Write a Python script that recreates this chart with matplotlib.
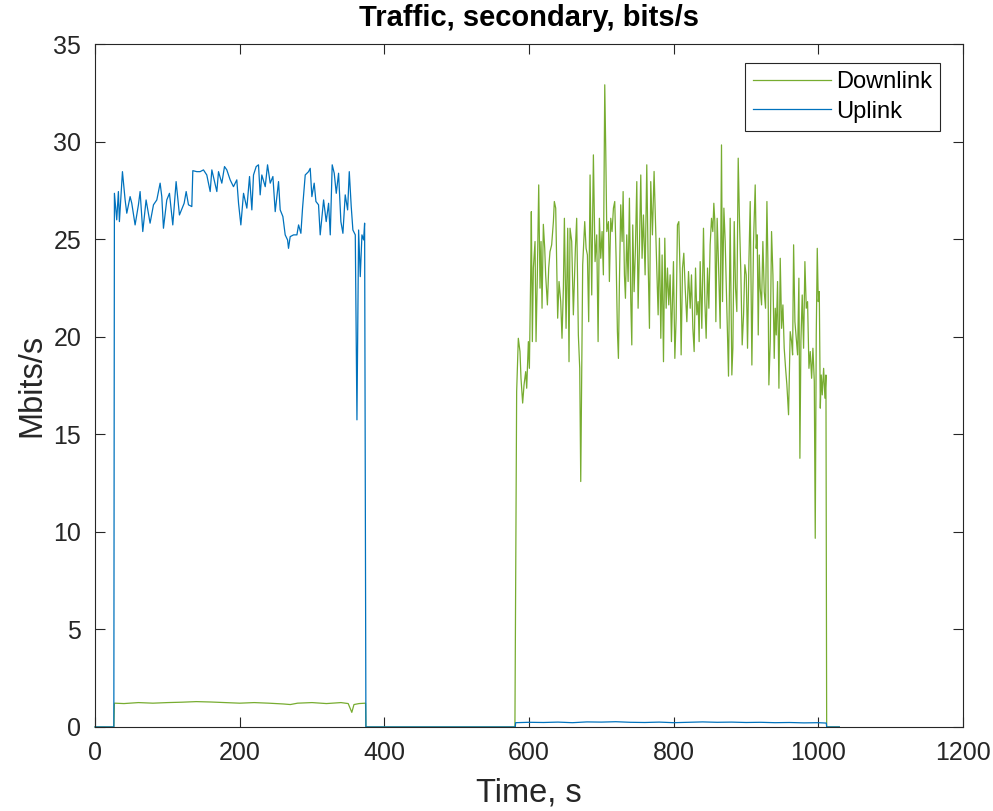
import matplotlib.pyplot as plt
import numpy as np

plt.rcParams['font.family'] = ['Liberation Sans', 'DejaVu Sans']

# uplink, active phase (time s, Mbit/s)
ul_t_hi = [26.8, 30.0, 32.3, 33.7, 37.9, 41.6, 43.9, 48.5, 50.8, 55.4, 60.0, 62.3, 66.0, 70.6,
           76.1, 80.8, 85.4, 90.0, 92.3, 94.6, 99.2, 102.9, 107.5, 112.1, 116.7, 123.2, 126.0,
           129.2, 133.8, 135.2, 140.7, 145.3, 149.9, 154.5, 159.2, 161.5, 168.4, 170.7, 175.3,
           179.0, 182.2, 186.8, 191.4, 196.0, 198.4, 201.6, 205.3, 209.9, 213.6, 216.8, 219.1,
           222.8, 226.0, 228.3, 230.6, 235.3, 238.5, 242.2, 245.9, 249.1, 253.7, 256.0, 259.7,
           262.9, 266.2, 267.5, 269.8, 274.5, 279.1, 281.4, 284.6, 286.9, 290.6, 295.2, 297.5,
           299.8, 303.0, 305.4, 309.0, 311.3, 316.0, 319.6, 322.9, 325.2, 327.9, 330.7, 333.5,
           336.7, 339.9, 342.7, 345.9, 349.2, 351.5, 354.2, 356.5, 359.8, 362.1, 364.4, 366.7,
           369.0, 371.3, 372.7]
ul_v_hi = [27.35, 25.99, 27.44, 25.90, 28.46, 27.01, 26.33, 27.18, 26.84, 25.73, 26.76, 27.44,
           25.39, 27.01, 25.82, 26.76, 27.01, 27.87, 27.18, 25.56, 27.01, 27.35, 25.73, 27.95,
           26.24, 26.84, 27.44, 26.76, 26.67, 28.51, 28.46, 28.46, 28.55, 28.29, 27.44, 28.55,
           27.44, 28.46, 27.87, 28.72, 28.55, 28.04, 27.69, 28.04, 26.84, 25.73, 27.35, 26.59,
           28.21, 26.50, 28.29, 28.72, 28.81, 27.27, 28.29, 27.69, 28.81, 27.87, 28.21, 26.41,
           27.95, 26.50, 26.16, 25.22, 24.96, 24.53, 25.13, 25.22, 25.22, 25.73, 25.30, 26.59,
           28.29, 28.46, 28.63, 27.18, 27.87, 26.93, 26.76, 25.22, 27.01, 25.90, 26.84, 25.22,
           28.81, 28.38, 27.35, 28.38, 25.90, 25.30, 27.27, 26.50, 28.46, 26.67, 25.47, 25.22,
           15.74, 25.47, 23.08, 25.22, 24.96, 25.82]

# uplink, idle phase while downlink runs
ul_t_lo = [581.5, 600, 620, 640, 660, 680, 700, 720, 740, 760, 780, 800, 820, 840, 860, 880,
           900, 920, 940, 960, 980, 1000, 1011]
ul_v_lo = [0.22, 0.24, 0.23, 0.25, 0.22, 0.26, 0.25, 0.27, 0.24, 0.23, 0.25, 0.22, 0.24, 0.26,
           0.24, 0.25, 0.23, 0.24, 0.22, 0.23, 0.21, 0.22, 0.20]

# downlink, idle phase while uplink runs
dl_t_lo = [26.8, 40, 60, 80, 100, 120, 140, 160, 180, 200, 220, 240, 260, 270, 280, 300, 320,
           340, 350, 355, 358, 365, 374]
dl_v_lo = [1.22, 1.20, 1.25, 1.22, 1.25, 1.27, 1.30, 1.28, 1.25, 1.22, 1.25, 1.22, 1.18, 1.15,
           1.22, 1.25, 1.20, 1.25, 1.20, 0.75, 1.15, 1.20, 1.22]

# downlink, active phase
dl_t_hi = [582.9, 585.2, 587.5, 588.9, 591.2, 593.1, 595.4, 596.8, 599.1, 600.5, 602.3, 603.2,
           604.6, 606.0, 608.3, 609.7, 611.5, 613.4, 615.2, 616.6, 618.0, 619.8, 621.7, 623.0,
           625.4, 627.2, 629.0, 631.3, 633.7, 635.0, 636.9, 638.3, 639.6, 641.5, 643.8, 645.6,
           647.5, 648.9, 651.2, 653.5, 655.3, 656.7, 659.0, 661.3, 664.1, 665.9, 668.2, 670.1,
           671.5, 674.2, 677.0, 678.9, 680.7, 682.5, 684.4, 686.7, 689.0, 691.3, 693.6, 695.5,
           697.3, 699.2, 701.0, 702.8, 704.7, 706.1, 707.5, 709.8, 711.1, 713.0, 714.8, 716.7,
           718.5, 720.4, 722.2, 723.6, 725.0, 726.8, 728.7, 730.1, 731.9, 733.3, 735.1, 737.0,
           738.8, 740.7, 742.1, 743.4, 745.3, 747.1, 749.0, 750.8, 752.7, 754.5, 756.3, 758.2,
           760.5, 762.8, 764.6, 766.5, 768.3, 770.6, 772.9, 774.8, 776.6, 778.5, 780.3, 782.2,
           784.0, 785.9, 787.7, 789.6, 791.4, 793.2, 795.1, 796.9, 799.7, 801.6, 803.4, 805.2,
           807.1, 808.9, 810.3, 812.2, 814.0, 815.9, 818.2, 820.5, 822.8, 824.6, 826.5, 828.3,
           830.2, 832.0, 833.8, 835.2, 836.6, 838.9, 841.2, 843.1, 844.9, 846.8, 848.6, 850.4,
           852.3, 854.1, 855.5, 856.9, 858.3, 860.1, 862.0, 864.3, 866.1, 867.5, 869.4, 871.2,
           873.5, 875.8, 878.1, 880.4, 881.8, 883.7, 885.5, 887.3, 889.2, 891.0, 892.9, 894.7,
           896.6, 898.4, 900.3, 902.1, 904.0, 905.8, 908.1, 910.4, 912.7, 914.1, 915.5, 916.9,
           918.3, 919.6, 921.5, 923.3, 925.2, 927.0, 928.9, 930.2, 931.6, 933.5, 935.3, 937.2,
           939.0, 940.4, 941.8, 943.6, 945.5, 947.3, 949.2, 951.0, 952.8, 954.7, 956.5, 958.8,
           961.1, 963.0, 964.4, 965.8, 967.6, 969.4, 971.3, 973.1, 974.5, 975.9, 977.7, 979.6,
           981.4, 983.3, 985.1, 987.0, 988.8, 990.7, 992.5, 994.4, 995.7, 997.1, 998.5, 999.9,
           1001.3, 1002.7, 1004.0, 1005.4, 1007.3, 1009.1, 1010.5]
dl_v_hi = [17.19, 19.92, 19.24, 17.87, 16.60, 17.53, 18.21, 17.36, 19.75, 18.38, 23.17, 26.41,
           19.75, 23.52, 24.88, 19.75, 23.17, 27.78, 22.49, 24.88, 21.46, 25.76, 24.53, 23.17,
           21.63, 23.52, 24.36, 24.71, 25.90, 26.93, 26.59, 23.52, 20.95, 22.83, 21.80, 19.92,
           22.49, 26.07, 20.43, 25.56, 18.72, 25.56, 24.88, 21.12, 24.53, 26.07, 20.09, 18.38,
           12.58, 23.69, 25.90, 24.53, 24.19, 20.77, 28.29, 22.14, 29.32, 23.85, 25.22, 19.75,
           26.07, 24.02, 25.39, 23.17, 32.91, 29.49, 25.39, 25.90, 22.83, 26.07, 25.39, 26.59,
           26.93, 24.02, 20.26, 18.89, 22.83, 26.76, 24.88, 27.44, 23.17, 21.97, 25.22, 22.83,
           27.10, 21.80, 19.58, 25.73, 22.31, 24.53, 27.95, 21.46, 24.71, 28.29, 24.02, 26.24,
           23.17, 28.81, 24.02, 20.43, 27.95, 25.22, 28.47, 25.90, 23.52, 21.12, 25.05, 19.92,
           24.19, 18.72, 25.05, 21.46, 23.52, 21.63, 23.17, 19.75, 23.85, 18.89, 20.95, 25.73,
           25.90, 23.17, 19.07, 23.52, 24.28, 22.49, 20.77, 23.34, 21.46, 23.17, 20.43, 19.24,
           23.52, 21.12, 21.80, 19.75, 23.85, 20.43, 25.56, 21.80, 19.92, 23.52, 21.46, 24.71,
           26.07, 25.39, 26.84, 25.90, 20.77, 26.07, 23.69, 20.43, 29.83, 21.80, 26.59, 24.88,
           21.46, 17.98, 26.07, 18.04, 19.41, 25.90, 22.49, 21.29, 29.15, 25.90, 23.17, 19.58,
           21.12, 23.69, 23.17, 19.41, 23.85, 26.93, 18.55, 24.88, 27.78, 24.53, 25.22, 20.09,
           24.19, 22.49, 21.63, 24.88, 22.31, 21.46, 26.93, 24.02, 17.53, 19.75, 25.39, 23.17,
           18.89, 21.46, 20.09, 22.83, 17.36, 24.02, 20.43, 21.63, 19.41, 18.38, 17.53, 16.00,
           20.26, 19.75, 19.07, 24.71, 20.77, 19.92, 19.07, 23.00, 13.77, 19.75, 22.14, 19.41,
           23.85, 21.46, 21.80, 18.38, 19.24, 17.87, 19.41, 17.70, 9.67, 20.09, 24.53, 21.80,
           22.31, 16.34, 18.04, 17.02, 18.38, 16.85, 18.04]

# idle (zero) edges
t_start, t_up_on, t_up_off, t_dn_on, t_dn_off, t_end = 0, 26.0, 374.5, 581.0, 1011.5, 1029

dl_t = [t_start, t_up_on] + dl_t_lo + [t_up_off, t_dn_on - 0.5] + dl_t_hi + [t_dn_off, t_end]
dl_v = [0, 0] + dl_v_lo + [0, 0] + dl_v_hi + [0, 0]
ul_t = [t_start, t_up_on] + ul_t_hi + [t_up_off, t_dn_on] + ul_t_lo + [t_dn_off, t_end]
ul_v = [0, 0] + ul_v_hi + [0, 0] + ul_v_lo + [0, 0]

fig = plt.figure(figsize=(9.93, 8.11), dpi=100)
ax = fig.add_axes([0.0957, 0.1036, 0.8741, 0.8421])

ax.plot(dl_t, dl_v, color='#77AC30', lw=0.9, label='Downlink', clip_on=False)
ax.plot(ul_t, ul_v, color='#0072BD', lw=0.9, label='Uplink', clip_on=False)

ax.set_xlim(0, 1200)
ax.set_ylim(0, 35)
ax.set_xticks(np.arange(0, 1201, 200))
ax.set_yticks(np.arange(0, 36, 5))
ax.tick_params(direction='in', top=True, right=True, labelsize=18, colors='#262626',
               length=7, width=0.8)
ax.tick_params(axis='x', pad=10)
ax.tick_params(axis='y', pad=10)
for s in ax.spines.values():
    s.set_color('#262626')
    s.set_linewidth(0.8)

ax.set_xlabel('Time, s', fontsize=23.5, color='#262626', labelpad=9)
ax.set_ylabel('Mbits/s', fontsize=23.5, color='#262626', labelpad=4)
ax.set_title('Traffic, secondary, bits/s', fontsize=21, fontweight='bold', pad=13)

leg = ax.legend(loc='upper right', bbox_to_anchor=(0.9735, 0.972), borderaxespad=0,
                fontsize=17, fancybox=False, edgecolor='#262626', framealpha=1,
                handlelength=3.3, handletextpad=0.2, borderpad=0.35, labelspacing=0.3)
leg.get_frame().set_linewidth(0.8)

fig.savefig('out.png', dpi=100)
